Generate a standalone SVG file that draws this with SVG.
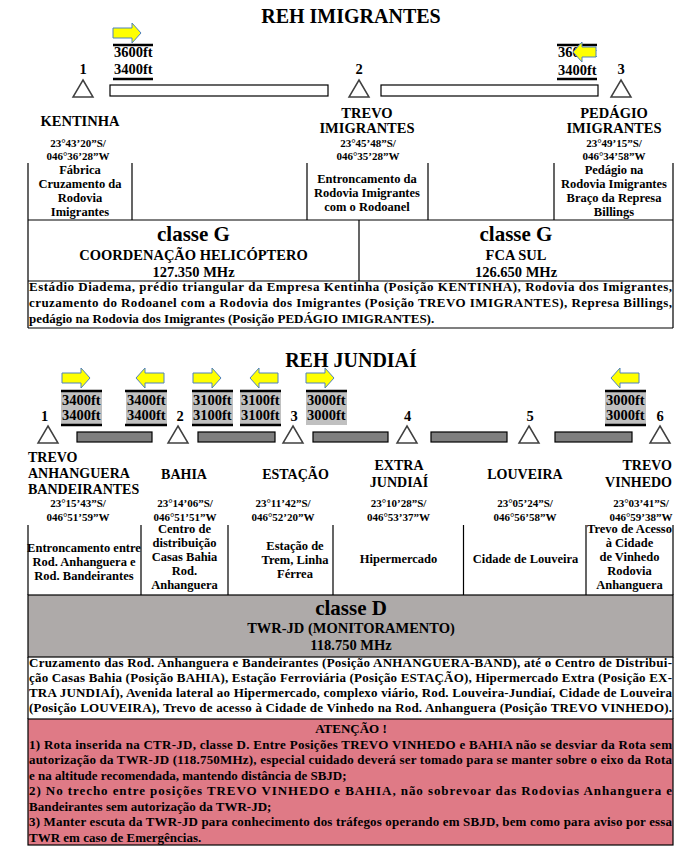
<svg xmlns="http://www.w3.org/2000/svg" width="682" height="857" viewBox="0 0 682 857">
<style>
text{font-family:"Liberation Serif","Times New Roman",serif;font-weight:bold;fill:#000}
.t{font-size:20px;text-anchor:middle}
.h{font-size:14.5px;text-anchor:middle}
.h2{font-size:14px;text-anchor:middle}
.c{font-size:11px;text-anchor:middle}
.b{font-size:12.5px;text-anchor:middle}
.alt{font-size:14.5px}
.num{font-size:14.5px;text-anchor:middle}
.cls{font-size:21px;text-anchor:middle}
.sub{font-size:14.5px;text-anchor:middle}
.p{font-size:13px}
.tri{fill:#fff;stroke:#404040;stroke-width:1.5}
.arr{fill:#ffff00;stroke:#4f81bd;stroke-width:1}
.bar{fill:#7f7f7f;stroke:#000;stroke-width:1.2}
.box{fill:#fff;stroke:#000;stroke-width:1.2}
.ln{stroke:#000;stroke-width:1.2;fill:none}
.th{stroke:#000;stroke-width:2.5}
.gbox{fill:#c0c0c0}
</style>
<defs>
<path id="ar" d="M0,5H19V0L28,10L19,20V15H0Z"/>
<path id="al" d="M28,5H9V0L0,10L9,20V15H28Z"/>
<path id="tri" d="M10,0L20,17H0Z"/>
</defs>
<rect width="682" height="857" fill="#fff"/>

<!-- ===== REH IMIGRANTES ===== -->
<text class="t" x="351" y="23">REH IMIGRANTES</text>

<g id="connectors">
<rect class="box" x="110" y="85" width="218" height="11"/>
<rect class="box" x="381" y="85" width="217" height="11"/>
<rect class="bar" x="77" y="432" width="75" height="10"/>
<rect class="bar" x="198" y="432" width="77" height="10"/>
<rect class="bar" x="313" y="432" width="75" height="10"/>
<rect class="bar" x="431" y="432" width="76" height="10"/>
<rect class="bar" x="555" y="432" width="77" height="10"/>
</g>

<g id="alt-imig-1">
<line class="th" x1="113" y1="45" x2="153" y2="45"/>
<text class="alt" x="114" y="57">3600ft</text>
<text class="alt" x="114" y="74">3400ft</text>
<line class="th" x1="113" y1="79" x2="153" y2="79"/>
<use href="#ar" class="arr" transform="translate(113,23)"/>
</g>
<g id="alt-imig-2">
<line class="th" x1="557" y1="45" x2="597" y2="45"/>
<text class="alt" x="558" y="57">3600ft</text>
<text class="alt" x="558" y="75">3400ft</text>
<line class="th" x1="557" y1="79" x2="597" y2="79"/>
<path class="arr" d="M596,47H582V42L573,52L582,62V57H596Z"/>
</g>

<g id="imig-p1">
<text class="num" x="83" y="74">1</text>
<use href="#tri" class="tri" transform="translate(73,80)"/>
<text class="h" x="80" y="126">KENTINHA</text>
<text class="c" x="78" y="147">23°43’20”S/</text>
<text class="c" x="78" y="160">046°36’28”W</text>
<text class="b" x="80" y="174">Fábrica</text>
<text class="b" x="80" y="188">Cruzamento da</text>
<text class="b" x="80" y="202">Rodovia</text>
<text class="b" x="80" y="216">Imigrantes</text>
</g>
<g id="imig-p2">
<text class="num" x="359" y="74">2</text>
<use href="#tri" class="tri" transform="translate(349,80)"/>
<text class="h" x="367" y="118">TREVO</text>
<text class="h" x="367" y="133">IMIGRANTES</text>
<text class="c" x="368" y="147">23°45’48”S/</text>
<text class="c" x="368" y="160">046°35’28”W</text>
<text class="b" x="367" y="183">Entroncamento da</text>
<text class="b" x="367" y="197">Rodovia Imigrantes</text>
<text class="b" x="367" y="211">com o Rodoanel</text>
</g>
<g id="imig-p3">
<text class="num" x="621" y="74">3</text>
<use href="#tri" class="tri" transform="translate(611,80)"/>
<text class="h" x="614" y="118">PEDÁGIO</text>
<text class="h" x="614" y="133">IMIGRANTES</text>
<text class="c" x="614" y="147">23°49’15”S/</text>
<text class="c" x="614" y="160">046°34’58”W</text>
<text class="b" x="614" y="174">Pedágio na</text>
<text class="b" x="614" y="188">Rodovia Imigrantes</text>
<text class="b" x="614" y="202">Braço da Represa</text>
<text class="b" x="614" y="216">Billings</text>
</g>

<g id="imig-table">
<path class="ln" d="M28,163V328M673,163V328M132,163V220M307,163V220M428,163V220M554,163V220M359,220V281M28,220H673M28,281H673M28,328H673"/>
<text class="cls" x="193.5" y="241">classe G</text>
<text class="sub" x="193.5" y="260">COORDENAÇÃO HELICÓPTERO</text>
<text class="sub" x="193.5" y="277">127.350 MHz</text>
<text class="cls" x="516" y="241">classe G</text>
<text class="sub" x="516" y="260">FCA SUL</text>
<text class="sub" x="516" y="277">126.650 MHz</text>
<text class="p" x="29" y="291" textLength="643" lengthAdjust="spacing">Estádio Diadema, prédio triangular da Empresa Kentinha (Posição KENTINHA), Rodovia dos Imigrantes,</text>
<text class="p" x="29" y="307" textLength="643" lengthAdjust="spacing">cruzamento do Rodoanel com a Rodovia dos Imigrantes (Posição TREVO IMIGRANTES), Represa Billings,</text>
<text class="p" x="29" y="323">pedágio na Rodovia dos Imigrantes (Posição PEDÁGIO IMIGRANTES).</text>
</g>

<!-- ===== REH JUNDIAÍ ===== -->
<text class="t" x="351" y="367">REH JUNDIAÍ</text>

<g id="alt-jun-1">
<rect class="gbox" x="61" y="391" width="41" height="34"/>
<line class="th" x1="61" y1="391" x2="102" y2="391"/>
<line class="th" x1="61" y1="425" x2="102" y2="425"/>
<text class="alt" x="62" y="405">3400ft</text>
<text class="alt" x="62" y="420">3400ft</text>
<use href="#ar" class="arr" transform="translate(62,368)"/>
</g>
<g id="alt-jun-2">
<rect class="gbox" x="126" y="391" width="41" height="34"/>
<line class="th" x1="125" y1="391" x2="167" y2="391"/>
<line class="th" x1="125" y1="425" x2="167" y2="425"/>
<text class="alt" x="127" y="405">3400ft</text>
<text class="alt" x="127" y="420">3400ft</text>
<use href="#al" class="arr" transform="translate(136,368)"/>
</g>
<g id="alt-jun-3">
<rect class="gbox" x="192" y="391" width="41" height="34"/>
<line class="th" x1="192" y1="391" x2="233" y2="391"/>
<line class="th" x1="192" y1="425" x2="233" y2="425"/>
<text class="alt" x="193" y="405">3100ft</text>
<text class="alt" x="193" y="420">3100ft</text>
<use href="#ar" class="arr" transform="translate(193,368)"/>
</g>
<g id="alt-jun-4">
<rect class="gbox" x="240" y="391" width="41" height="34"/>
<line class="th" x1="240" y1="391" x2="281" y2="391"/>
<line class="th" x1="240" y1="425" x2="281" y2="425"/>
<text class="alt" x="241" y="405">3100ft</text>
<text class="alt" x="241" y="420">3100ft</text>
<use href="#al" class="arr" transform="translate(250,368)"/>
</g>
<g id="alt-jun-5">
<rect class="gbox" x="306" y="391" width="41" height="34"/>
<line class="th" x1="306" y1="391" x2="347" y2="391"/>
<text class="alt" x="307" y="405">3000ft</text>
<text class="alt" x="307" y="420">3000ft</text>
<use href="#ar" class="arr" transform="translate(306,368)"/>
</g>
<g id="alt-jun-6">
<rect class="gbox" x="605" y="391" width="41" height="34"/>
<line class="th" x1="605" y1="391" x2="646" y2="391"/>
<line class="th" x1="605" y1="425" x2="646" y2="425"/>
<text class="alt" x="606" y="405">3000ft</text>
<text class="alt" x="606" y="420">3000ft</text>
<use href="#al" class="arr" transform="translate(611,368)"/>
</g>

<g id="jun-p1">
<text class="num" x="44.5" y="421">1</text>
<use href="#tri" class="tri" transform="translate(38,426)"/>
<text class="h2" x="28" y="462" style="text-anchor:start">TREVO</text>
<text class="h2" x="28" y="478" style="text-anchor:start">ANHANGUERA</text>
<text class="h2" x="28" y="494" style="text-anchor:start">BANDEIRANTES</text>
<text class="c" x="78" y="507">23°15’43”S/</text>
<text class="c" x="78" y="521">046°51’59”W</text>
<text class="b" x="84" y="552">Entroncamento entre</text>
<text class="b" x="84" y="566">Rod. Anhanguera e</text>
<text class="b" x="84" y="580">Rod. Bandeirantes</text>
</g>
<g id="jun-p2">
<text class="num" x="180" y="421">2</text>
<use href="#tri" class="tri" transform="translate(168,426)"/>
<text class="h2" x="184" y="479">BAHIA</text>
<text class="c" x="185" y="507">23°14’06”S/</text>
<text class="c" x="185" y="521">046°51’51”W</text>
<text class="b" x="184.5" y="533">Centro de</text>
<text class="b" x="184.5" y="547">distribuição</text>
<text class="b" x="184.5" y="561">Casas Bahia</text>
<text class="b" x="184.5" y="575">Rod.</text>
<text class="b" x="184.5" y="589">Anhanguera</text>
</g>
<g id="jun-p3">
<text class="num" x="294" y="421">3</text>
<use href="#tri" class="tri" transform="translate(283,426)"/>
<text class="h2" x="295.5" y="479">ESTAÇÃO</text>
<text class="c" x="283" y="507">23°11’42”S/</text>
<text class="c" x="283" y="521">046°52’20”W</text>
<text class="b" x="295" y="550">Estação de</text>
<text class="b" x="295" y="564">Trem, Linha</text>
<text class="b" x="295" y="578">Férrea</text>
</g>
<g id="jun-p4">
<text class="num" x="407.5" y="421">4</text>
<use href="#tri" class="tri" transform="translate(397,426)"/>
<text class="h2" x="399" y="470">EXTRA</text>
<text class="h2" x="399" y="487">JUNDIAÍ</text>
<text class="c" x="398.5" y="507">23°10’28”S/</text>
<text class="c" x="398.5" y="521">046°53’37”W</text>
<text class="b" x="398.5" y="563">Hipermercado</text>
</g>
<g id="jun-p5">
<text class="num" x="530" y="421">5</text>
<use href="#tri" class="tri" transform="translate(519,426)"/>
<text class="h2" x="525" y="479">LOUVEIRA</text>
<text class="c" x="525" y="507">23°05’24”S/</text>
<text class="c" x="525" y="521">046°56’58”W</text>
<text class="b" x="525.5" y="563">Cidade de Louveira</text>
</g>
<g id="jun-p6">
<text class="num" x="660" y="421">6</text>
<use href="#tri" class="tri" transform="translate(650,426)"/>
<text class="h2" x="672" y="470" style="text-anchor:end">TREVO</text>
<text class="h2" x="672" y="487" style="text-anchor:end">VINHEDO</text>
<text class="c" x="641" y="507">23°03’41”S/</text>
<text class="c" x="641" y="521">046°59’38”W</text>
<text class="b" x="629.5" y="533">Trevo de Acesso</text>
<text class="b" x="629.5" y="547">à Cidade</text>
<text class="b" x="629.5" y="561">de Vinhedo</text>
<text class="b" x="629.5" y="575">Rodovia</text>
<text class="b" x="629.5" y="589">Anhanguera</text>
</g>

<g id="jun-table">
<rect x="28" y="595" width="645" height="62" fill="#aeaaa9" stroke="#000" stroke-width="1.2"/>
<rect x="28" y="719" width="645" height="126" fill="#df7a86" stroke="#000" stroke-width="1.2"/>
<path class="ln" d="M28,525V595M141,525V595M228,525V595M333,525V595M463.5,525V595M586,525V595M673,525V595M28,657V719M673,657V719"/>
<text class="cls" x="351" y="615">classe D</text>
<text class="sub" x="351" y="633">TWR-JD (MONITORAMENTO)</text>
<text class="sub" x="351" y="650">118.750 MHz</text>
<text class="p" x="29" y="667" textLength="643" lengthAdjust="spacing">Cruzamento das Rod. Anhanguera e Bandeirantes (Posição ANHANGUERA-BAND), até o Centro de Distribui-</text>
<text class="p" x="29" y="682" textLength="643" lengthAdjust="spacing">ção Casas Bahia (Posição BAHIA), Estação Ferroviária (Posição ESTAÇÃO), Hipermercado Extra (Posição EX-</text>
<text class="p" x="29" y="697" textLength="643" lengthAdjust="spacing">TRA JUNDIAÍ), Avenida lateral ao Hipermercado, complexo viário, Rod. Louveira-Jundiaí, Cidade de Louveira</text>
<text class="p" x="29" y="712" textLength="643" lengthAdjust="spacing">(Posição LOUVEIRA), Trevo de acesso à Cidade de Vinhedo na Rod. Anhanguera (Posição TREVO VINHEDO).</text>
</g>

<g id="atencao">
<text class="p" x="351" y="733" style="text-anchor:middle">ATENÇÃO !</text>
<text class="p" x="29" y="748.5" textLength="643" lengthAdjust="spacing">1) Rota inserida na CTR-JD, classe D. Entre Posições TREVO VINHEDO e BAHIA não se desviar da Rota sem</text>
<text class="p" x="29" y="764" textLength="643" lengthAdjust="spacing">autorização da TWR-JD (118.750MHz), especial cuidado deverá ser tomado para se manter sobre o eixo da Rota</text>
<text class="p" x="29" y="779.5">e na altitude recomendada, mantendo distância de SBJD;</text>
<text class="p" x="29" y="795" textLength="643" lengthAdjust="spacing">2) No trecho entre posições TREVO VINHEDO e BAHIA, não sobrevoar das Rodovias Anhanguera e</text>
<text class="p" x="29" y="810.5">Bandeirantes sem autorização da TWR-JD;</text>
<text class="p" x="29" y="826" textLength="643" lengthAdjust="spacing">3) Manter escuta da TWR-JD para conhecimento dos tráfegos operando em SBJD, bem como para aviso por essa</text>
<text class="p" x="29" y="841.5">TWR em caso de Emergências.</text>
</g>
</svg>
